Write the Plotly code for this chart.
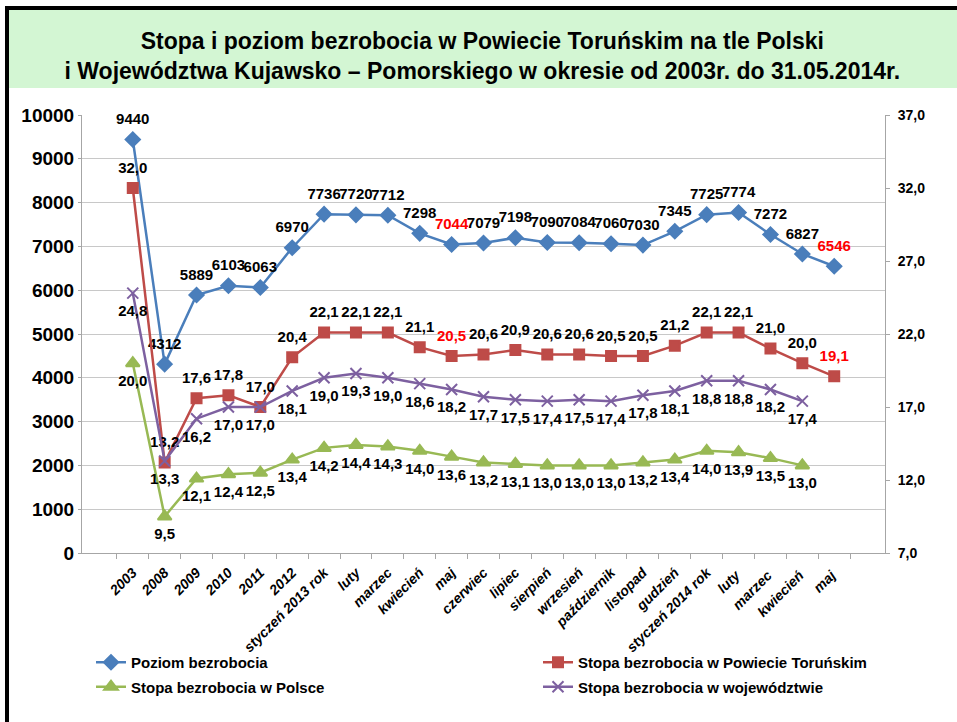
import plotly.graph_objects as go

# kategorie na osi X
kategorie = [
    "2003", "2008", "2009", "2010", "2011", "2012", "styczeń 2013 rok", "luty",
    "marzec", "kwiecień", "maj", "czerwiec", "lipiec", "sierpień", "wrzesień",
    "październik", "listopad", "gudzień", "styczeń 2014 rok", "luty ", "marzec ",
    "kwiecień ", "maj ",
]

poziom = [9440, 4312, 5889, 6103, 6063, 6970, 7736, 7720, 7712, 7298, 7044, 7079,
          7198, 7090, 7084, 7060, 7030, 7345, 7725, 7774, 7272, 6827, 6546]
stopa_powiat = [32.0, 13.2, 17.6, 17.8, 17.0, 20.4, 22.1, 22.1, 22.1, 21.1, 20.5, 20.6,
                20.9, 20.6, 20.6, 20.5, 20.5, 21.2, 22.1, 22.1, 21.0, 20.0, 19.1]
stopa_polska = [20.0, 9.5, 12.1, 12.4, 12.5, 13.4, 14.2, 14.4, 14.3, 14.0, 13.6, 13.2,
                13.1, 13.0, 13.0, 13.0, 13.2, 13.4, 14.0, 13.9, 13.5, 13.0]
stopa_woj = [24.8, 13.3, 16.2, 17.0, 17.0, 18.1, 19.0, 19.3, 19.0, 18.6, 18.2, 17.7,
             17.5, 17.4, 17.5, 17.4, 17.8, 18.1, 18.8, 18.8, 18.2, 17.4]

# wyroznione na czerwono etykiety (maj 2013 i maj 2014)
wyroznione = [10, 22]

# wymiary ramki wykresu (px)
W, H = 957, 722
L, R, T, B = 82, 72, 115, 169
pw, ph = W - L - R, H - T - B


def px_x(x):
    return (x - L) / pw


def px_y(y):
    return (H - B - y) / ph


def fmt(v):
    return f"{v:.1f}".replace(".", ",")


def kolory(n):
    return ["#FF0000" if i in wyroznione else "#000000" for i in range(n)]


lbl_font = dict(family="Liberation Sans", size=15, weight="bold")

serie = [
    # nazwa, y, os, kolor, symbol, rozmiar, legenda, etykiety, pozycja, kolory etykiet
    ("Poziom bezrobocia", poziom, "y", "#4A7EBB", "diamond", 11, "legend",
     [str(v) for v in poziom], "top center", kolory(len(poziom))),
    ("Stopa bezrobocia w Powiecie Toruńskim", stopa_powiat, "y2", "#BE4B48", "square", 10,
     "legend2", [fmt(v) for v in stopa_powiat], "top center", kolory(len(stopa_powiat))),
    ("Stopa bezrobocia w Polsce", stopa_polska, "y2", "#98B954", "triangle-up", 12,
     "legend", [fmt(v) for v in stopa_polska], "bottom center", "#000000"),
    ("Stopa bezrobocia w województwie", stopa_woj, "y2", "#7D60A0", "x-thin-open", 11,
     "legend2", [fmt(v) for v in stopa_woj], "bottom center", "#000000"),
]

fig = go.Figure()
for nazwa, y, os_y, kolor, symbol, rozmiar, leg, etykiety, poz, kol in serie:
    x = kategorie[:len(y)]
    fig.add_trace(go.Scatter(
        x=x, y=y, name=nazwa, mode="lines+markers", yaxis=os_y,
        legend=leg, legendgroup=nazwa,
        line=dict(color=kolor, width=2.5),
        marker=dict(symbol=symbol, size=rozmiar, color=kolor,
                    line=dict(width=2, color=kolor)),
    ))
    # etykiety danych (niewidoczny wiekszy marker daje odstep od punktu)
    fig.add_trace(go.Scatter(
        x=x, y=y, mode="markers+text", yaxis=os_y, showlegend=False,
        hoverinfo="skip", marker=dict(size=17, opacity=0), cliponaxis=False,
        text=etykiety, textposition=poz, textfont=dict(lbl_font, color=kol),
    ))

legend_font = dict(family="Liberation Sans", size=15, color="#000000", weight="bold")

fig.update_layout(
    width=W, height=H,
    margin=dict(l=L, r=R, t=T, b=B, autoexpand=False),
    paper_bgcolor="white", plot_bgcolor="white",
    separators=", ",
    title=dict(
        text="Stopa i poziom bezrobocia w Powiecie Toruńskim na tle Polski<br>"
             "i Województwa Kujawsko – Pomorskiego w okresie od 2003r. do 31.05.2014r.",
        x=0.504, xanchor="center", y=1 - 49 / H, yanchor="middle",
        font=dict(family="Liberation Sans", size=23, color="#000000", weight="bold"),
    ),
    xaxis=dict(
        type="category", tickangle=-45, tickson="boundaries", ticks="outside",
        ticklen=5, tickcolor="#A6A6A6", showline=True, linecolor="#A6A6A6",
        showgrid=False, automargin=False, ticklabelstandoff=5,
        tickfont=dict(family="Liberation Sans", size=14, color="#000000",
                      weight="bold", style="italic"),
    ),
    yaxis=dict(
        range=[0, 10000], dtick=1000, tickformat="d", showline=True,
        linecolor="#A6A6A6", ticks="outside", ticklen=3, tickcolor="#A6A6A6",
        gridcolor="#C8C8C8", gridwidth=1, zeroline=False, automargin=False,
        tickfont=dict(family="Liberation Sans", size=19, color="#000000", weight="bold"),
    ),
    yaxis2=dict(
        range=[7, 37], tick0=7, dtick=5, tickformat=".1f", overlaying="y", side="right",
        showline=True, linecolor="#A6A6A6", ticks="outside", ticklen=4,
        tickcolor="#A6A6A6", showgrid=False, zeroline=False, automargin=False,
        ticklabelstandoff=5,
        tickfont=dict(family="Liberation Sans", size=14, color="#000000", weight="bold"),
    ),
    legend=dict(
        orientation="v", x=px_x(91), xanchor="left", y=px_y(646), yanchor="top",
        tracegroupgap=2, font=legend_font, bgcolor="rgba(0,0,0,0)",
    ),
    legend2=dict(
        orientation="v", x=px_x(538), xanchor="left", y=px_y(646), yanchor="top",
        tracegroupgap=2, font=legend_font, bgcolor="rgba(0,0,0,0)",
    ),
    shapes=[
        # zielony pasek tytulu
        dict(type="rect", xref="paper", yref="paper", layer="below",
             x0=px_x(8), x1=px_x(W), y0=px_y(88), y1=px_y(10),
             fillcolor="#D3F6D3", line=dict(width=0)),
        # czarna ramka (gora i lewa krawedz)
        dict(type="line", xref="paper", yref="paper",
             x0=px_x(5), x1=px_x(W), y0=px_y(8), y1=px_y(8),
             line=dict(color="#000000", width=4)),
        dict(type="line", xref="paper", yref="paper",
             x0=px_x(7), x1=px_x(7), y0=px_y(6), y1=px_y(H),
             line=dict(color="#000000", width=4)),
    ],
)

# bez domyslnego marginesu strony, zeby wykres zaczynal sie w rogu okna
fig.write_html("out.html", config={"displayModeBar": False},
               post_script="document.body.style.margin='0';")
